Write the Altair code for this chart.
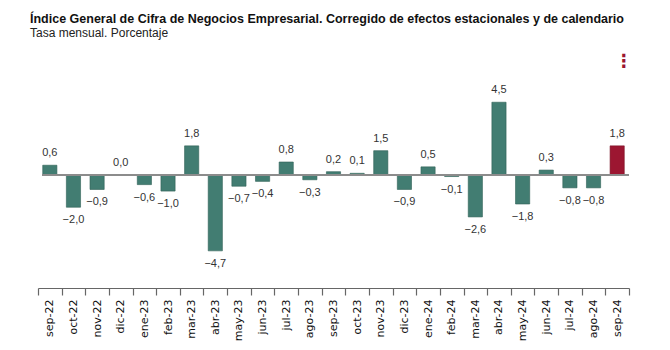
import altair as alt
import pandas as pd

months = ["sep-22", "oct-22", "nov-22", "dic-22", "ene-23", "feb-23", "mar-23", "abr-23",
          "may-23", "jun-23", "jul-23", "ago-23", "sep-23", "oct-23", "nov-23", "dic-23",
          "ene-24", "feb-24", "mar-24", "abr-24", "may-24", "jun-24", "jul-24", "ago-24", "sep-24"]
values = [0.6, -2.0, -0.9, 0.0, -0.6, -1.0, 1.8, -4.7, -0.7, -0.4, 0.8, -0.3, 0.2, 0.1,
          1.5, -0.9, 0.5, -0.1, -2.6, 4.5, -1.8, 0.3, -0.8, -0.8, 1.8]
highlight = [False] * 24 + [True]

df = pd.DataFrame({"mes": months, "valor": values, "ultimo": highlight})

TEAL = "#427d72"
RED = "#9c1631"

xenc = alt.X("mes:N", sort=months, title=None,
             scale=alt.Scale(paddingInner=0, paddingOuter=0),
             axis=alt.Axis(labelAngle=-90, labelAlign="right", labelBaseline="middle",
                           labelFont="DejaVu Sans", labelFontSize=11, labelColor="#111",
                           labelPadding=4, tickBand="extent", tickSize=7,
                           tickColor="#666", domainColor="#666", domainWidth=1.2,
                           tickWidth=1.2, labelOverlap=False))
yenc = alt.Y("valor:Q", title=None, scale=alt.Scale(domain=[-7, 6], nice=False), axis=None)

base = alt.Chart(df).transform_calculate(
    etiqueta="replace(format(datum.valor, '.1f'), '.', ',')"
)

bars = base.mark_bar(width=alt.RelativeBandSize(0.6), strokeWidth=0.6).encode(
    x=xenc,
    y=yenc,
    y2=alt.datum(0),
    color=alt.Color("ultimo:N", scale=alt.Scale(domain=[False, True], range=[TEAL, RED]), legend=None),
    stroke=alt.Stroke("ultimo:N", scale=alt.Scale(domain=[False, True], range=["#2f5f56", "#7a1025"]), legend=None),
)

zero = base.mark_rule(color="#8c8c8c", strokeWidth=2).encode(
    y=alt.datum(0), x=alt.value(4), x2=alt.value(591)
)

pos = base.transform_filter("datum.valor >= 0").mark_text(
    baseline="bottom", dy=-7, font="Liberation Sans", fontSize=11, color="#333"
).encode(x=alt.X("mes:N", sort=months), y="valor:Q", text="etiqueta:N")

neg = base.transform_filter("datum.valor < 0").mark_text(
    baseline="top", dy=7, font="Liberation Sans", fontSize=11, color="#333"
).encode(x=alt.X("mes:N", sort=months), y="valor:Q", text="etiqueta:N")

dots = alt.Chart(pd.DataFrame({"t": ["⋮"]})).mark_text(
    font="DejaVu Sans", fontSize=18, fontWeight="bold", color=RED
).encode(x=alt.value(586), y=alt.value(-16), text="t:N")

chart = alt.layer(bars, zero, pos, neg, dots).properties(
    width=591, height=210,
    background="white",
    autosize=alt.AutoSizeParams(type="none"),
    padding={"left": 38, "right": 41, "top": 78, "bottom": 62},
    title=alt.TitleParams(
        text="Índice General de Cifra de Negocios Empresarial. Corregido de efectos estacionales y de calendario",
        subtitle="Tasa mensual. Porcentaje",
        anchor="start", frame="group", dx=-8, offset=14,
        font="Liberation Sans", fontSize=12.5, fontWeight="bold", color="#111",
        subtitleFont="Liberation Sans", subtitleFontSize=12, subtitleColor="#222",
        subtitlePadding=3,
    ),
).configure_view(strokeWidth=0, stroke="transparent")

chart.save("out.html", embed_options={"renderer": "svg", "actions": False})
